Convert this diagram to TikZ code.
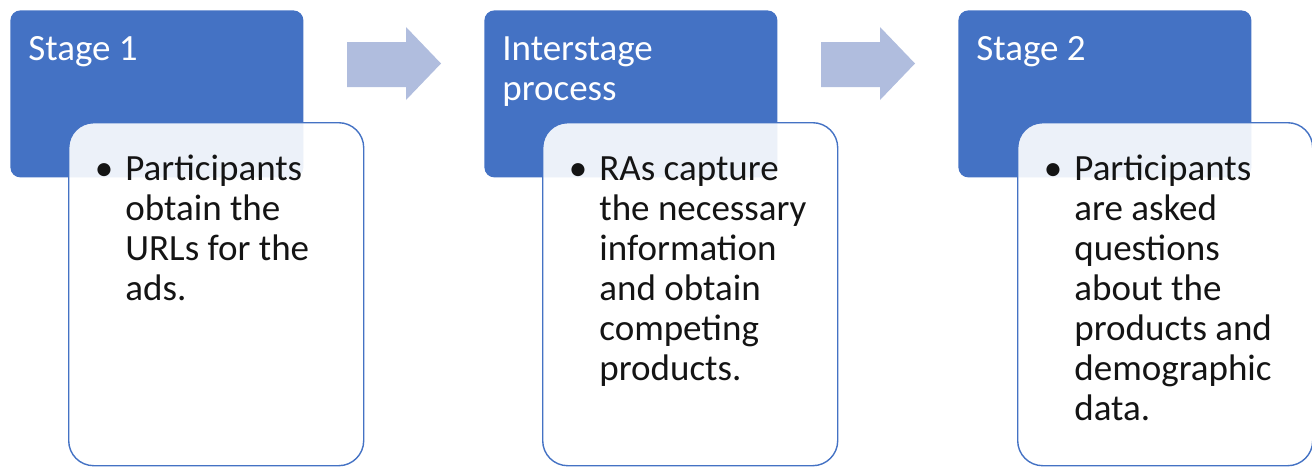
\documentclass[tikz,border=0pt]{standalone}
\usepackage{fontspec}
\setmainfont{Carlito}
\usepackage{xcolor}
\usepackage{tikz}
\definecolor{stageblue}{RGB}{68,114,196}
\definecolor{arrowblue}{RGB}{176,189,222}
\definecolor{bodytext}{RGB}{20,20,20}

\begin{document}
\begin{tikzpicture}[x=0.5pt,y=-0.5pt,
	head/.style = {rectangle, rounded corners=5pt, fill=stageblue, minimum width=146.5pt, minimum height=83.5pt, anchor=north west, inner sep=0pt},
	card/.style = {rectangle, rounded corners=12.5pt, draw=stageblue, line width=0.7pt, fill=white, fill opacity=0.9, minimum width=147.5pt, minimum height=171.5pt, anchor=north west, inner sep=0pt},
	title/.style = {anchor=base west, inner sep=0pt, align=left, text=white, font=\fontsize{18.5}{20}\selectfont},
	items/.style = {anchor=base west, inner sep=0pt, align=left, text=bodytext, font=\fontsize{18.5}{20}\selectfont}]
	\useasboundingbox (0,0) rectangle (1312,467);

	% blue headers
	\node[head] (head1) at (10,10) {};
	\node[head] (head2) at (484,10) {};
	\node[head] (head3) at (958,10) {};

	% arrows between the stages
	\fill[arrowblue] (347,42) -- (406,42) -- (406,27) -- (441,63.5) -- (406,100) -- (406,87) -- (347,87) -- cycle;
	\fill[arrowblue] (821,42) -- (880,42) -- (880,27) -- (915,63.5) -- (880,100) -- (880,87) -- (821,87) -- cycle;

	% white cards on top of the headers
	\node[card] (card1) at (68,122) {};
	\node[card] (card2) at (542,122) {};
	\node[card] (card3) at (1017,122) {};

	% multi-line nodes sit on the baseline of their last line
	\node[title] (title1) at (28,60) {Stage 1};
	\node[title] (title2) at (502,100) {Interstage\\process};
	\node[title] (title3) at (976,60) {Stage 2};

	\node[items] (items1) at (125,300) {\llap{\textbullet\hspace{6pt}}Participants\\obtain the\\URLs for the\\ads.};
	\node[items] (items2) at (599,380) {\llap{\textbullet\hspace{6pt}}RAs capture\\the necessary\\information\\and obtain\\competing\\products.};
	\node[items] (items3) at (1074,420) {\llap{\textbullet\hspace{6pt}}Participants\\are asked\\questions\\about the\\products and\\demographic\\data.};
\end{tikzpicture}
\end{document}
